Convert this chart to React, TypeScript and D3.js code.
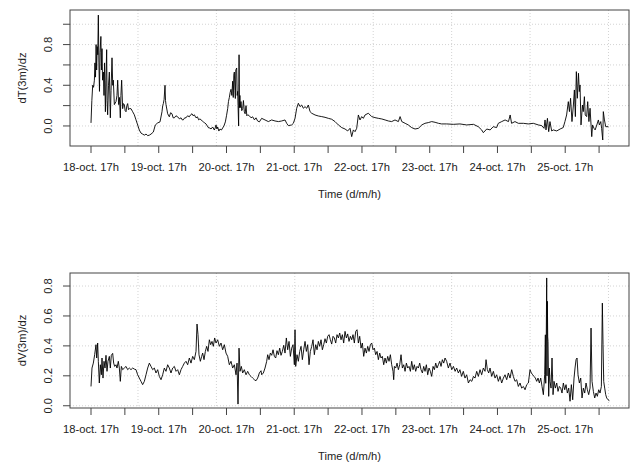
import React from 'react';
import * as d3 from 'd3';

// ---- data: [hours since 18-oct 17h, value] ----
const dTSeries: [number, number][] = [
  [0.0,0.03],[0.3,0.25],[0.6,0.40],[0.9,0.38],[1.2,0.45],[1.4,0.62],[1.6,0.48],[1.8,0.80],[2.0,0.55],[2.2,0.78],[2.4,0.70],[2.6,1.09],[2.8,0.62],[3.0,0.34],[3.2,0.72],[3.5,0.88],[3.7,0.55],[3.9,0.76],[4.1,0.45],[4.4,0.53],[4.6,0.30],[4.8,0.62],[5.1,0.14],[5.3,0.45],[5.55,0.75],[5.7,0.25],[5.9,0.11],[6.2,0.40],[6.5,0.53],[6.85,0.08],[7.1,0.35],[7.44,0.67],[7.7,0.40],[7.91,0.45],[8.27,0.21],[8.86,0.24],[9.2,0.30],[9.45,0.45],[9.8,0.21],[10.1,0.28],[10.39,0.08],[10.6,0.30],[10.86,0.45],[11.22,0.17],[11.5,0.22],[11.81,0.21],[12.1,0.15],[12.4,0.14],[12.7,0.20],[12.99,0.22],[13.3,0.16],[13.58,0.17],[14.17,0.17],[14.76,0.14],[15.35,0.11],[15.94,0.06],[16.53,0.01],[17.12,-0.04],[17.71,-0.07],[18.3,-0.08],[18.9,-0.09],[19.5,-0.08],[20.1,-0.095],[20.7,-0.09],[21.26,-0.08],[22.08,-0.06],[22.79,0.01],[23.62,0.03],[24.45,0.04],[25.15,0.14],[25.4,0.20],[25.63,0.22],[25.9,0.26],[26.22,0.40],[26.4,0.25],[26.57,0.21],[27.16,0.12],[27.75,0.09],[28.2,0.13],[28.70,0.12],[29.1,0.08],[29.53,0.08],[30.1,0.10],[30.71,0.09],[31.3,0.07],[31.9,0.08],[32.3,0.06],[32.7,0.06],[33.2,0.08],[33.66,0.08],[34.2,0.10],[34.84,0.09],[35.3,0.11],[35.78,0.12],[36.2,0.10],[36.6,0.11],[37.2,0.08],[37.7,0.09],[38.15,0.06],[38.6,0.07],[38.97,0.06],[39.4,0.05],[39.8,0.04],[40.3,0.03],[40.74,0.02],[41.2,0.00],[41.69,-0.02],[42.1,-0.02],[42.52,-0.03],[43.1,-0.01],[43.70,-0.04],[44.0,-0.02],[44.29,0.01],[44.6,-0.03],[44.88,-0.01],[45.3,-0.05],[45.7,-0.03],[46.2,-0.04],[46.65,-0.02],[47.1,0.00],[47.6,0.04],[48.0,0.10],[48.42,0.17],[48.7,0.24],[49.01,0.28],[49.3,0.33],[49.6,0.36],[49.9,0.30],[50.19,0.44],[50.4,0.28],[50.6,0.50],[50.78,0.53],[51.0,0.35],[51.14,0.27],[51.3,0.55],[51.61,0.57],[51.8,0.30],[51.96,0.34],[52.1,0.20],[52.3,0.00],[52.45,0.70],[52.6,0.18],[52.75,0.30],[52.9,0.18],[53.14,0.24],[53.4,0.15],[53.73,0.17],[54.0,0.25],[54.32,0.14],[54.6,0.12],[54.92,0.20],[55.2,0.10],[55.51,0.11],[56.1,0.10],[56.7,0.08],[57.28,0.09],[57.9,0.06],[58.46,0.08],[59.0,0.05],[59.64,0.04],
  [60.47,0.075],[61.65,0.059],[62.83,0.043],[64.0,0.059],[65.2,0.049],[66.4,0.043],[67.56,0.049],[68.74,0.059],[69.33,0.026],[69.92,0.003],[71.1,0.010],[71.69,0.026],[72.28,0.075],[72.87,0.174],[73.46,0.223],[74.05,0.19],[74.64,0.206],[75.23,0.174],[75.83,0.19],[76.42,0.174],[77.0,0.206],[77.6,0.141],[78.19,0.125],[79.37,0.108],[80.55,0.098],[81.73,0.092],[82.91,0.085],[84.09,0.075],[85.27,0.066],[86.45,0.043],[87.64,0.010],[88.82,-0.016],[90.0,-0.030],[90.94,-0.049],[91.77,-0.023],[92.36,-0.105],[92.95,-0.039],[93.54,-0.056],[94.13,-0.023],[94.72,0.108],[95.31,0.059],[95.9,0.092],[96.49,0.075],[97.08,0.108],[98.26,0.125],[99.45,0.092],[100.6,0.082],[101.8,0.075],[103.0,0.069],[104.2,0.059],[105.35,0.049],[106.5,0.043],[107.7,0.059],[108.9,0.043],[109.5,0.092],[110.1,0.043],[111.3,0.026],[112.4,0.010],[113.6,-0.016],[114.8,-0.030],[116.0,-0.023],[117.2,0.010],[118.3,0.026],[119.5,0.033],[120.7,0.043],[121.9,0.036],[123.1,0.026],[124.2,0.020],
  [126.0,0.020],[128.4,0.016],[130.7,0.020],[133.1,0.010],[135.5,0.016],[137.2,-0.007],[138.4,-0.039],[139.0,-0.066],[140.2,-0.030],[141.4,-0.039],[142.5,-0.007],[143.7,-0.016],[144.3,0.026],[145.5,0.043],[146.7,0.059],[147.9,0.043],[148.5,0.108],[149.0,0.026],[150.2,0.043],[151.4,0.026],[153.2,0.026],[154.9,0.020],[156.7,0.026],[158.5,0.010],[159.7,0.003],[160.5,-0.023],[160.85,0.059],[161.2,-0.039],[161.7,0.075],[162.15,-0.056],[162.6,0.043],[163.2,-0.049],[163.8,-0.039],[165.0,-0.049],[166.2,-0.030],[167.3,-0.016],[167.9,0.043],[168.5,0.108],[169.1,0.239],[169.5,0.141],[169.9,0.272],[170.4,0.043],[170.9,0.206],[171.25,0.354],[171.6,0.092],[171.95,0.534],[172.3,0.272],[172.7,0.518],[173.0,0.338],[173.25,0.403],[173.6,0.010],[174.1,0.206],[174.4,0.141],[174.8,0.288],[175.1,0.108],[175.6,0.092],[175.97,0.239],[176.4,0.043],[176.8,0.174],[177.4,-0.105],[177.7,0.010],[178.2,-0.023],[178.6,-0.039],[179.2,0.010],[179.75,0.059],[180.1,0.010],[180.6,0.043],[180.9,-0.023],[181.3,-0.138],[181.5,0.141],[181.9,0.059],[182.35,-0.007],[183.3,-0.007],
];

const dVSeries: [number, number][] = [
  [0.0,0.129],[0.35,0.252],[0.83,0.285],[1.30,0.341],[1.77,0.408],[2.01,0.319],[2.36,0.419],[2.60,0.297],[2.95,0.152],[3.31,0.274],[3.66,0.207],[3.90,0.319],[4.25,0.185],[4.61,0.297],[4.96,0.252],[5.31,0.337],[5.67,0.230],[6.02,0.297],[6.50,0.330],[6.85,0.252],[7.20,0.337],[7.68,0.350],[8.03,0.285],[8.39,0.263],[8.86,0.274],[9.21,0.252],[9.68,0.297],[10.04,0.252],[10.39,0.163],[10.75,0.263],[11.22,0.241],[11.81,0.252],[12.40,0.263],[12.99,0.241],[13.58,0.252],[14.17,0.241],[14.76,0.252],[15.35,0.245],[15.94,0.241],[16.53,0.207],[17.12,0.185],[17.71,0.163],[18.30,0.141],[18.90,0.163],[19.49,0.207],[20.08,0.252],[20.67,0.285],[21.26,0.263],[21.85,0.241],[22.44,0.252],[23.03,0.219],[23.62,0.241],[24.21,0.196],[24.80,0.174],[25.39,0.207],[25.98,0.252],[26.57,0.230],[27.16,0.274],[27.75,0.252],[28.34,0.219],[28.93,0.252],[29.53,0.263],[30.12,0.230],[30.71,0.241],[31.30,0.207],[31.89,0.241],[32.48,0.263],[33.07,0.285],[33.66,0.297],[34.25,0.274],[34.84,0.319],[35.43,0.285],[36.02,0.330],[36.61,0.308],[37.20,0.363],[37.56,0.546],[37.91,0.475],[38.26,0.341],[38.74,0.297],[39.21,0.330],[39.56,0.352],[40.04,0.308],[40.51,0.363],[40.98,0.397],[41.45,0.363],[41.93,0.441],[42.40,0.408],[42.87,0.430],[43.34,0.397],[43.81,0.453],[44.29,0.419],[44.88,0.441],[45.47,0.397],[46.06,0.419],[46.65,0.374],[47.24,0.408],[47.83,0.352],[48.42,0.330],[49.01,0.274],[49.60,0.297],[50.19,0.252],[50.78,0.274],[51.37,0.207],[51.73,0.285],[52.08,0.011],[52.44,0.385],[52.79,0.230],[53.26,0.263],[53.73,0.219],[54.32,0.241],[54.92,0.207],[55.51,0.230],[56.10,0.207],[56.69,0.196],[57.28,0.185],[57.87,0.174],[58.46,0.167],[59.05,0.185],[59.64,0.219],[60.23,0.234],
  [60.47,0.207],[61.06,0.219],[61.65,0.252],[62.24,0.297],[62.6,0.341],[63.07,0.308],[63.54,0.352],[64.02,0.337],[64.49,0.374],[64.96,0.330],[65.43,0.319],[65.9,0.368],[66.38,0.341],[66.85,0.385],[67.32,0.337],[67.79,0.363],[68.27,0.404],[68.74,0.352],[69.21,0.453],[69.68,0.374],[70.16,0.430],[70.63,0.330],[71.1,0.385],[71.57,0.408],[72.05,0.274],[72.28,0.508],[72.52,0.263],[72.99,0.341],[73.46,0.297],[73.94,0.363],[74.41,0.397],[74.88,0.308],[75.35,0.374],[75.83,0.430],[76.3,0.363],[76.77,0.408],[77.24,0.274],[77.71,0.363],[78.19,0.397],[78.66,0.441],[79.13,0.341],[79.6,0.408],[80.08,0.374],[80.55,0.430],[81.02,0.397],[81.49,0.441],[81.97,0.374],[82.44,0.408],[82.91,0.448],[83.38,0.419],[83.86,0.464],[84.33,0.475],[84.8,0.441],[85.27,0.412],[85.75,0.464],[86.22,0.453],[86.69,0.419],[87.16,0.475],[87.64,0.453],[88.11,0.486],[88.58,0.441],[89.05,0.475],[89.52,0.419],[90.0,0.497],[90.47,0.453],[90.94,0.480],[91.41,0.430],[91.89,0.464],[92.36,0.441],[92.83,0.475],[93.3,0.419],[93.78,0.497],[94.25,0.508],[94.72,0.419],[95.19,0.464],[95.67,0.385],[96.14,0.419],[96.61,0.330],[97.08,0.385],[97.56,0.352],[98.03,0.397],[98.5,0.363],[98.97,0.408],[99.45,0.419],[99.92,0.374],[100.39,0.385],[100.86,0.341],[101.34,0.363],[101.81,0.308],[102.28,0.352],[102.75,0.319],[103.22,0.330],[103.7,0.274],[104.17,0.319],[104.64,0.285],[105.11,0.330],[105.59,0.297],[106.06,0.341],[106.53,0.274],[107.0,0.230],[107.24,0.174],[107.48,0.263],[107.95,0.252],[108.42,0.285],[108.89,0.241],[109.37,0.274],[109.84,0.341],[110.31,0.252],[110.78,0.274],[111.26,0.230],[111.73,0.285],[112.2,0.252],[112.67,0.263],[113.15,0.230],[113.62,0.297],[114.09,0.241],[114.56,0.274],[115.03,0.230],[115.51,0.263],[115.98,0.252],[116.45,0.285],[116.92,0.241],[117.4,0.219],[117.87,0.263],[118.34,0.230],[118.81,0.274],[119.29,0.207],[119.76,0.252],[120.23,0.230],[120.7,0.196],[121.18,0.263],[121.65,0.241],[122.12,0.285],[122.59,0.252],[123.07,0.274],[123.54,0.297],[124.01,0.263],[124.48,0.308],[124.96,0.285],[125.43,0.319],
  [126.0,0.297],[126.6,0.252],[127.2,0.285],[127.8,0.241],[128.4,0.263],[129.0,0.230],[129.55,0.252],[130.15,0.219],[130.7,0.241],[131.3,0.196],[131.9,0.230],[132.5,0.185],[133.1,0.207],[133.7,0.152],[134.3,0.174],[134.9,0.163],[135.5,0.196],[136.05,0.185],[136.64,0.230],[137.23,0.196],[137.82,0.241],[138.41,0.207],[139.0,0.252],[139.6,0.230],[139.95,0.308],[140.42,0.241],[140.89,0.219],[141.37,0.252],[141.96,0.196],[142.55,0.230],[143.14,0.185],[143.73,0.207],[144.32,0.163],[144.91,0.196],[145.5,0.152],[146.09,0.185],[146.68,0.207],[147.27,0.174],[147.86,0.219],[148.45,0.185],[149.04,0.241],[149.63,0.196],[150.22,0.163],[150.81,0.174],[151.4,0.129],[151.99,0.152],[152.58,0.118],[153.18,0.129],[153.77,0.107],[154.36,0.141],[154.95,0.152],[155.54,0.241],[156.01,0.219],[156.48,0.207],[156.95,0.196],[157.43,0.185],[157.9,0.163],[158.37,0.185],[158.84,0.152],[159.32,0.185],[159.79,0.129],[160.26,0.074],[160.73,0.207],[160.97,0.474],[161.1,0.15],[161.21,0.386],[161.3,0.48],[161.44,0.854],[161.55,0.20],[161.68,0.698],[161.8,0.46],[161.91,0.430],[162.15,0.063],[162.39,0.252],[162.62,0.163],[162.98,0.118],[163.33,0.319],[163.69,0.074],[164.04,0.163],[164.51,0.118],[164.99,0.152],[165.46,0.096],[165.93,0.129],[166.4,0.118],[166.87,0.085],[167.35,0.152],[167.82,0.107],[168.29,0.141],[168.76,0.085],[169.24,0.118],[169.71,0.030],[170.18,0.141],[170.65,0.040],[171.13,0.185],[171.48,0.252],[171.84,0.308],[172.19,0.319],[172.54,0.207],[173.02,0.152],[173.49,0.185],[173.96,0.052],[174.43,0.118],[174.91,0.085],[175.38,0.152],[175.85,0.107],[176.32,0.074],[176.8,0.118],[177.15,0.519],[177.5,0.163],[177.98,0.096],[178.45,0.052],[178.92,0.085],[179.39,0.063],[179.87,0.107],[180.34,0.085],[180.81,0.129],[181.16,0.686],[181.4,0.408],[181.64,0.163],[181.99,0.118],[182.35,0.074],[182.7,0.052],[183.17,0.040],[183.65,0.034],
];

const xTickHours = [0, 12, 24, 36, 48, 60, 72, 84, 96, 108, 120, 132, 144, 156, 168, 180];
const xLabelHours = [0, 24, 48, 72, 96, 120, 144, 168];
const xLabels = ['18-oct. 17h', '19-oct. 17h', '20-oct. 17h', '21-oct. 17h', '22-oct. 17h', '23-oct. 17h', '24-oct. 17h', '25-oct. 17h'];
const gridHoursX = [16.65, 44.43, 72.2, 99.98, 127.77, 155.55, 183.33];

const dTTicks = [0, 0.2, 0.4, 0.6, 0.8, 1.0];
const dTLabels = [0, 0.4, 0.8];
const dVTicks = [0, 0.2, 0.4, 0.6, 0.8];
const dVLabels = [0, 0.2, 0.4, 0.6, 0.8];

const xDomain: [number, number] = [-7.44, 190.6];
const FONT = '"Liberation Sans", Arial, sans-serif';
const FS = 11.2;
const LEFT = 70;
const RIGHT = 629;

function Panel(props: {
  series: [number, number][];
  top: number;
  bottom: number;
  yDomain: [number, number];
  yTicks: number[];
  yLabels: number[];
  yTitle: string;
}) {
  const { series, top, bottom, yDomain, yTicks, yLabels, yTitle } = props;
  const x = d3.scaleLinear().domain(xDomain).range([LEFT, RIGHT]);
  const y = d3.scaleLinear().domain(yDomain).range([bottom, top]);
  const line = d3.line<[number, number]>().x(d => x(d[0])).y(d => y(d[1]));
  const midY = (top + bottom) / 2;
  return (
    <g>
      {/* grid */}
      {gridHoursX.map((h, i) => (
        <line key={'gx' + i} x1={x(h)} x2={x(h)} y1={top} y2={bottom} stroke="#d3d3d3" strokeDasharray="1,2" strokeWidth={1} />
      ))}
      {yTicks.map((v, i) => (
        <line key={'gy' + i} x1={LEFT} x2={RIGHT} y1={y(v)} y2={y(v)} stroke="#d3d3d3" strokeDasharray="1,2" strokeWidth={1} />
      ))}
      {/* data */}
      <path d={line(series) || ''} fill="none" stroke="#000" strokeWidth={0.9} strokeLinejoin="round" />
      {/* box */}
      <rect x={LEFT} y={top} width={RIGHT - LEFT} height={bottom - top} fill="none" stroke="#444" strokeWidth={1} />
      {/* x ticks */}
      {xTickHours.map((h, i) => (
        <line key={'xt' + i} x1={x(h)} x2={x(h)} y1={bottom} y2={bottom + 7} stroke="#444" strokeWidth={1} />
      ))}
      {xLabelHours.map((h, i) => (
        <text key={'xl' + i} x={x(h)} y={bottom + 24.5} textAnchor="middle" fontFamily={FONT} fontSize={FS} fill="#222">
          {xLabels[i]}
        </text>
      ))}
      <text x={(LEFT + RIGHT) / 2} y={bottom + 51.5} textAnchor="middle" fontFamily={FONT} fontSize={FS} fill="#222">
        Time (d/m/h)
      </text>
      {/* y ticks */}
      {yTicks.map((v, i) => (
        <line key={'yt' + i} x1={LEFT - 7} x2={LEFT} y1={y(v)} y2={y(v)} stroke="#444" strokeWidth={1} />
      ))}
      {yLabels.map((v, i) => (
        <text key={'yl' + i} transform={`translate(51.7,${y(v)}) rotate(-90)`} textAnchor="middle" fontFamily={FONT} fontSize={FS} fill="#222">
          {v.toFixed(1)}
        </text>
      ))}
      <text transform={`translate(26,${midY}) rotate(-90)`} textAnchor="middle" fontFamily={FONT} fontSize={FS} fill="#222">
        {yTitle}
      </text>
    </g>
  );
}

export default function App() {
  return (
    <svg width={637} height={465} style={{ position: 'absolute', left: 0, top: 0, background: '#fff' }}>
      <rect x={0} y={0} width={637} height={465} fill="#fff" />
      <Panel series={dTSeries} top={10} bottom={146} yDomain={[-0.197, 1.14]} yTicks={dTTicks} yLabels={dTLabels} yTitle="dT(3m)/dz" />
      <Panel series={dVSeries} top={273} bottom={408} yDomain={[-0.015, 0.887]} yTicks={dVTicks} yLabels={dVLabels} yTitle="dV(3m)/dz" />
    </svg>
  );
}
